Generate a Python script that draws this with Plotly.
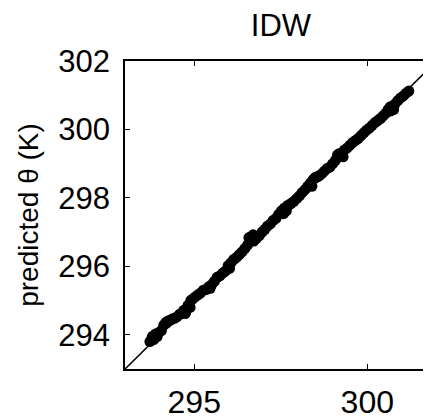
import plotly.graph_objects as go

# observed vs predicted potential temperature (K)
observed = [293.72, 293.78, 293.83, 293.88, 293.93, 293.97, 294.05, 294.12, 294.18, 294.24,
            294.30, 294.36, 294.42, 294.50, 294.58, 294.64, 294.70, 294.76, 294.82, 294.88,
            294.95, 295.02, 295.10, 295.18, 295.26, 295.34, 295.42, 295.50, 295.58, 295.66,
            295.74, 295.82, 295.90, 295.98, 296.06, 296.14, 296.22, 296.30, 296.38, 296.46,
            296.54, 296.60, 296.66, 296.72, 296.80, 296.88, 296.96, 297.04, 297.12, 297.20,
            297.28, 297.36, 297.44, 297.52, 297.60, 297.66, 297.72, 297.80, 297.88, 297.96,
            298.04, 298.12, 298.20, 298.28, 298.36, 298.44, 298.52, 298.60, 298.68, 298.76,
            298.84, 298.92, 299.00, 299.08, 299.14, 299.20, 299.26, 299.34, 299.42, 299.50,
            299.58, 299.66, 299.74, 299.82, 299.90, 299.98, 300.06, 300.14, 300.22, 300.30,
            300.38, 300.46, 300.54, 300.60, 300.66, 300.72, 300.80, 300.88, 300.96, 301.04,
            301.12, 301.20,
            293.80, 294.20, 294.74, 294.90, 295.46, 296.02, 296.58, 296.70, 297.58, 297.70,
            298.40, 298.50, 299.18, 299.30, 300.68, 300.76]
predicted = [293.80, 293.92, 293.86, 294.02, 293.95, 294.06, 294.12, 294.28, 294.36, 294.40,
             294.42, 294.46, 294.48, 294.52, 294.60, 294.62, 294.72, 294.68, 294.86, 294.80,
             295.04, 295.10, 295.16, 295.22, 295.30, 295.32, 295.40, 295.46, 295.56, 295.68,
             295.72, 295.80, 295.86, 296.02, 296.10, 296.20, 296.26, 296.34, 296.42, 296.52,
             296.62, 296.80, 296.86, 296.74, 296.82, 296.90, 297.00, 297.08, 297.18, 297.24,
             297.34, 297.40, 297.52, 297.62, 297.70, 297.62, 297.78, 297.84, 297.90, 297.98,
             298.06, 298.16, 298.24, 298.34, 298.44, 298.54, 298.60, 298.64, 298.70, 298.78,
             298.86, 298.90, 299.00, 299.10, 299.26, 299.30, 299.24, 299.40, 299.46, 299.54,
             299.62, 299.68, 299.74, 299.82, 299.90, 299.98, 300.04, 300.12, 300.20, 300.26,
             300.32, 300.40, 300.48, 300.58, 300.66, 300.62, 300.74, 300.84, 300.92, 300.98,
             301.06, 301.12,
             293.96, 294.34, 294.62, 295.00, 295.36, 295.94, 296.84, 296.92, 297.54, 297.78,
             298.34, 298.60, 299.22, 299.20, 300.54, 300.58]

one_to_one = [293, 302]
x_ticks = [295, 300]
y_ticks = [294, 296, 298, 300, 302]

FONT = "Liberation Sans, Arial, sans-serif"
W, H = 423, 412  # page body has an 8px margin; figure fills the rest of the 431x420 view

axis_common = dict(showgrid=False, zeroline=False, showline=True, linecolor="black",
                   linewidth=1.5, ticks="inside", ticklen=5, tickwidth=1.2,
                   tickcolor="black")

fig = go.Figure()
fig.add_trace(go.Scatter(x=one_to_one, y=one_to_one, mode="lines",
                         line=dict(color="black", width=1.6), showlegend=False,
                         hoverinfo="skip"))
fig.add_trace(go.Scatter(x=observed, y=predicted, mode="markers",
                         marker=dict(color="black", size=11, line=dict(width=0)),
                         showlegend=False))
# invisible trace to activate the top mirror axis
fig.add_trace(go.Scatter(x=one_to_one, y=one_to_one, xaxis="x2", mode="lines",
                         line=dict(width=0), opacity=0, showlegend=False,
                         hoverinfo="skip"))

fig.update_layout(
    width=W, height=H,
    margin=dict(l=117, r=0, t=53, b=48),
    paper_bgcolor="white", plot_bgcolor="white",
    font=dict(family=FONT, color="black"),
    title=dict(text="IDW", x=(117 + 429) / 2 / W, xanchor="center",
               y=1 - 17 / H, yanchor="middle", font=dict(size=31, family=FONT)),
    xaxis=dict(range=[293, 301.84], tickvals=x_ticks, ticktext=[str(v) for v in x_ticks],
               tickfont=dict(size=32, family=FONT), ticklabelstandoff=4, **axis_common),
    xaxis2=dict(range=[293, 301.84], overlaying="x", side="top", tickvals=x_ticks,
                showticklabels=False, **axis_common),
    yaxis=dict(range=[293, 302], tickvals=y_ticks, ticktext=[str(v) for v in y_ticks],
               tickfont=dict(size=31, family=FONT), ticklabelstandoff=7,
               title=dict(text="predicted \u03b8 (K)", font=dict(size=28, family=FONT),
                          standoff=12),
               **axis_common),
)

fig.write_html("out.html")
